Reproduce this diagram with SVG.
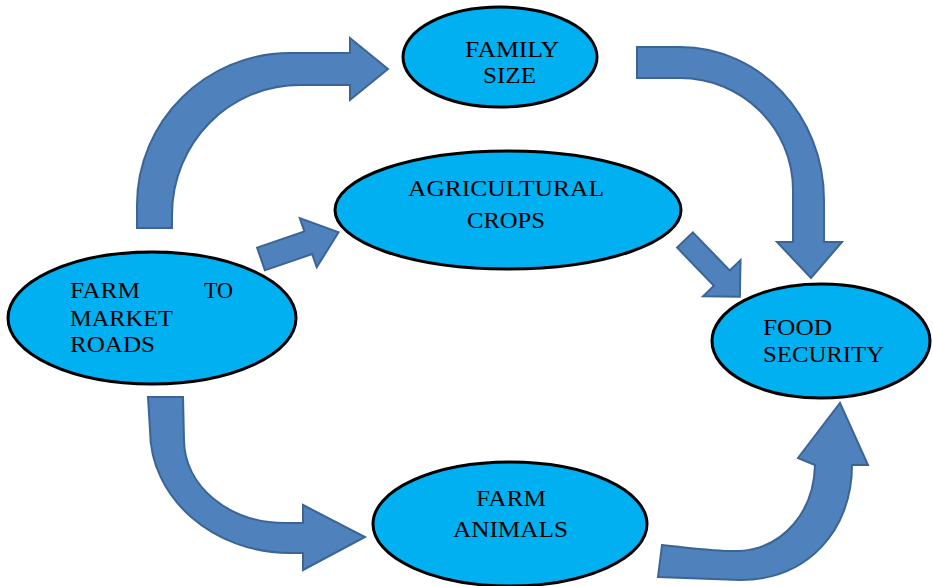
<svg xmlns="http://www.w3.org/2000/svg" width="933" height="586" viewBox="0 0 933 586">
<style>
.arr{fill:#4f81bd;stroke:#3a6595;stroke-width:2;stroke-linejoin:miter}
.node{fill:#00b0f0;stroke:#000;stroke-width:3}
.lbl{font-family:"Liberation Serif","Times New Roman",serif;font-size:23px;fill:#000}
</style>
<rect width="933" height="586" fill="#fff"/>
<g id="connectors">
<path class="arr" d="M137,228 L137,205 C137,121 206,53 290,53 L350,53 L350,38 L388,69 L350,100 L350,85 L300,85 C229,85 172,143 172,215 L172,228 Z"/>
<path class="arr" d="M637,47 L680,47 C760,47 824,116 824,200 L824,242 L842,242 L811,278 L777,242 L793,242 L793,190 C793,128 742,78 680,78 L637,78 Z"/>
<path class="arr" transform="translate(261,259) rotate(-19)" d="M0,-12 L50,-12 L50,-26 L82,0 L50,26 L50,12 L0,12 Z"/>
<path class="arr" transform="translate(685,240) rotate(46)" d="M0,-11 L53,-11 L53,-26 L79,0 L53,26 L53,11 L0,11 Z"/>
<path class="arr" d="M148,397 L183,397 L184,440 C184,486 229,523 285,523 L303,523 L303,505 L365,537 L303,570 L303,553 L290,553 C213,553 150,498 150,430 Z"/>
<path class="arr" d="M662,545 C700,549 720,552 740,551 C785,548 814,510 815,465 L798,458 L840,403 L868,465 L852,465 C852,530 808,580 740,580 L658,577 Z"/>
</g>
<g id="family-size">
<ellipse class="node" cx="500" cy="57" rx="97" ry="50"/>
<text class="lbl" x="465" y="57" textLength="94" lengthAdjust="spacingAndGlyphs">FAMILY</text>
<text class="lbl" x="483" y="83" textLength="53" lengthAdjust="spacingAndGlyphs">SIZE</text>
</g>
<g id="agricultural-crops">
<ellipse class="node" cx="508" cy="210" rx="173" ry="59"/>
<text class="lbl" x="408" y="196" textLength="196" lengthAdjust="spacingAndGlyphs">AGRICULTURAL</text>
<text class="lbl" x="467" y="228" textLength="78" lengthAdjust="spacingAndGlyphs">CROPS</text>
</g>
<g id="farm-to-market-roads">
<ellipse class="node" cx="152" cy="318" rx="144" ry="66"/>
<text class="lbl" x="70" y="298" textLength="70" lengthAdjust="spacingAndGlyphs">FARM</text>
<text class="lbl" x="204" y="298" textLength="29" lengthAdjust="spacingAndGlyphs">TO</text>
<text class="lbl" x="70" y="326" textLength="103" lengthAdjust="spacingAndGlyphs">MARKET</text>
<text class="lbl" x="70" y="352" textLength="85" lengthAdjust="spacingAndGlyphs">ROADS</text>
</g>
<g id="food-security">
<ellipse class="node" cx="821" cy="341" rx="109" ry="57"/>
<text class="lbl" x="763" y="335" textLength="69" lengthAdjust="spacingAndGlyphs">FOOD</text>
<text class="lbl" x="763" y="362" textLength="121" lengthAdjust="spacingAndGlyphs">SECURITY</text>
</g>
<g id="farm-animals">
<ellipse class="node" cx="510" cy="524" rx="137" ry="62"/>
<text class="lbl" x="476" y="506" textLength="70" lengthAdjust="spacingAndGlyphs">FARM</text>
<text class="lbl" x="453" y="537" textLength="115" lengthAdjust="spacingAndGlyphs">ANIMALS</text>
</g>
</svg>
